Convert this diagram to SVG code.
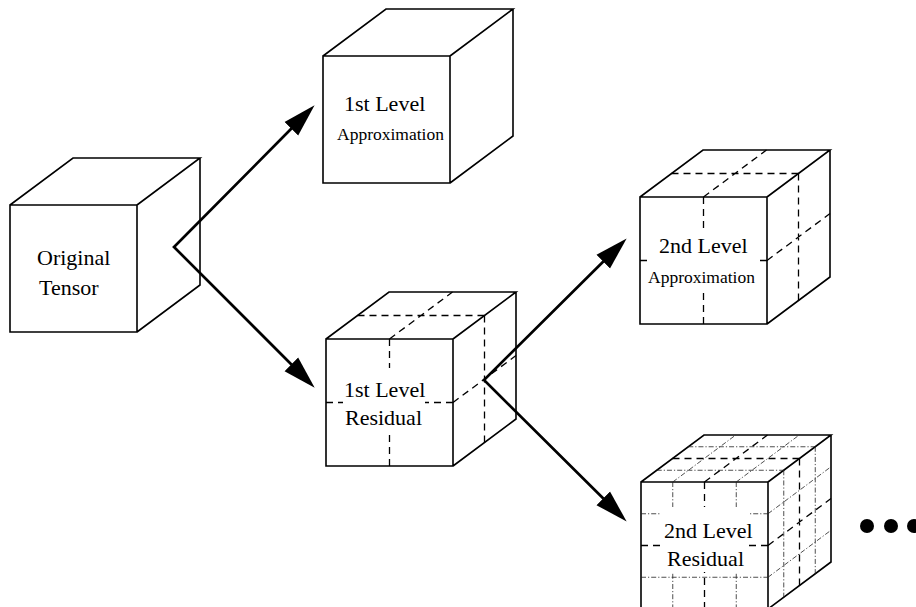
<svg xmlns="http://www.w3.org/2000/svg" xmlns:xlink="http://www.w3.org/1999/xlink" width="916" height="607" viewBox="0 0 916 607">
<style>
.bg{fill:#fff}
.fill{fill:#fff;stroke:none}
.edge{fill:none;stroke:#000;stroke-width:1.6;stroke-linejoin:miter}
.dash{fill:none;stroke:#000;stroke-width:1.3;stroke-dasharray:7,5}
.dashdot{fill:none;stroke:#222;stroke-width:0.8;stroke-dasharray:5,2,1.2,2}
.mask{fill:#fff;stroke:none}
.lbl{font-family:"Liberation Serif","Times New Roman",serif;font-size:22px;fill:#000}
.sm{font-size:17.5px}
.arrow{fill:none;stroke:#000;stroke-width:2.7;stroke-linejoin:miter;stroke-miterlimit:10}
.dot{fill:#000}
</style>
<defs>
<marker id="head" markerUnits="userSpaceOnUse" markerWidth="36" markerHeight="24" viewBox="0 -12 36 24" refX="0.5" refY="0" orient="auto-start-reverse">
<path d="M0,-9.6 L33,0 L0,9.6 Z" fill="#000"/>
</marker>
<g id="cube">
<path class="fill" d="M0,0 L63,-47 H190 V80 L127,127 H0 Z"/>
<path class="edge" d="M0,0 H127 V127 H0 Z M0,0 L63,-47 H190 L127,0 M190,-47 V80 L127,127"/>
</g>
<path id="half" class="dash" d="M63.5,0 V127 M0,63.5 H127 M63.5,0 L126.5,-47 M31.5,-23.5 H158.5 M127,63.5 L190,16.5 M158.5,-23.5 V103.5"/>
<path id="quarter" class="dashdot" d="M31.75,0 V127 M95.25,0 V127 M0,31.75 H127 M0,95.25 H127 M31.75,0 L94.75,-47 M95.25,0 L158.25,-47 M15.75,-11.75 H142.75 M47.25,-35.25 H174.25 M127,31.75 L190,-15.25 M127,95.25 L190,48.25 M142.75,-11.75 V115.25 M174.25,-35.25 V91.75"/>
</defs>
<rect class="bg" x="0" y="0" width="916" height="607"/>

<g id="original-tensor">
<use xlink:href="#cube" href="#cube" transform="translate(10,205)"/>
<text class="lbl" x="37" y="265">Original</text>
<text class="lbl" x="39" y="295">Tensor</text>
</g>

<g id="level1-approximation">
<use xlink:href="#cube" href="#cube" transform="translate(323,56)"/>
<text class="lbl" x="344" y="111">1st Level</text>
<text class="lbl sm" x="337" y="140">Approximation</text>
</g>

<g id="level1-residual">
<use xlink:href="#cube" href="#cube" transform="translate(326,339)"/>
<use xlink:href="#half" href="#half" transform="translate(326,339)"/>
<rect class="mask" x="343" y="368" width="82" height="64"/>
<text class="lbl" x="344" y="397">1st Level</text>
<text class="lbl" x="345" y="425">Residual</text>
</g>

<g id="level2-approximation">
<use xlink:href="#cube" href="#cube" transform="translate(640,197)"/>
<use xlink:href="#half" href="#half" transform="translate(640,197)"/>
<rect class="mask" x="647" y="230" width="111" height="62"/>
<text class="lbl" x="659" y="253">2nd Level</text>
<text class="lbl sm" x="648" y="283">Approximation</text>
</g>

<g id="level2-residual">
<use xlink:href="#cube" href="#cube" transform="translate(641,482)"/>
<use xlink:href="#quarter" href="#quarter" transform="translate(641,482)"/>
<use xlink:href="#half" href="#half" transform="translate(641,482)"/>
<rect class="mask" x="660" y="507" width="88" height="65"/>
<text class="lbl" x="664" y="538">2nd Level</text>
<text class="lbl" x="667" y="566">Residual</text>
</g>

<g id="connectors">
<path class="arrow" d="M291.7,128.3 L174,247 L291.7,364.7" marker-start="url(#head)" marker-end="url(#head)"/>
<path class="arrow" d="M603.6,261.3 L484,380 L603.6,498.7" marker-start="url(#head)" marker-end="url(#head)"/>
</g>

<g id="ellipsis">
<circle class="dot" cx="867" cy="526" r="7"/>
<circle class="dot" cx="891" cy="526" r="7"/>
<circle class="dot" cx="914" cy="526" r="7"/>
</g>
</svg>
